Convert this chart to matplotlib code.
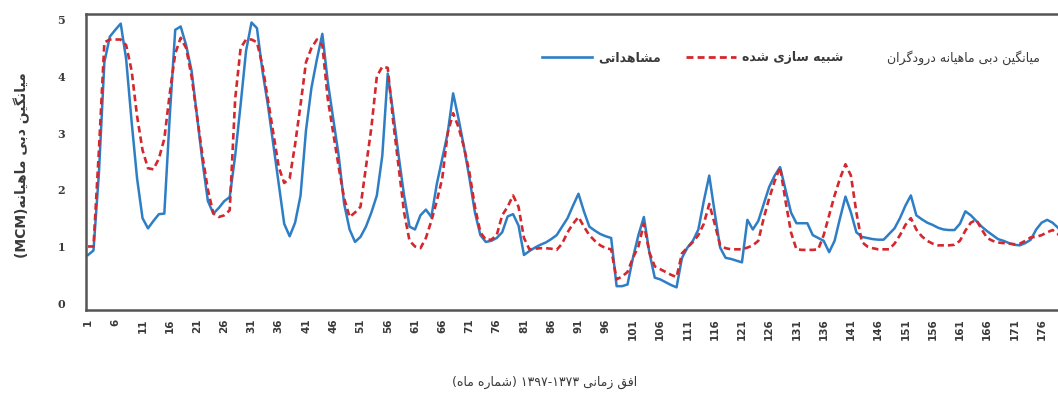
import matplotlib
matplotlib.use('Agg')
import matplotlib.pyplot as plt
from matplotlib.lines import Line2D

# monthly mean inflow, observed vs simulated (MCM)
months = list(range(1, 181))
observed = [0.85, 0.93, 2.3, 4.25, 4.7, 4.82, 4.93, 4.3, 3.2, 2.2,
            1.5, 1.32, 1.45, 1.57, 1.58, 3.3, 4.82, 4.88, 4.55, 4.1,
            3.3, 2.5, 1.8, 1.58, 1.68, 1.8, 1.87, 2.6, 3.5, 4.45,
            4.95, 4.85, 4.1, 3.5, 2.8, 2.1, 1.4, 1.18, 1.42, 1.9,
            3.05, 3.8, 4.3, 4.75, 3.9, 3.25, 2.6, 1.75, 1.3, 1.08,
            1.17, 1.35, 1.6, 1.9, 2.6, 4.05, 3.35, 2.6, 1.9, 1.35,
            1.3, 1.55, 1.65, 1.52, 2.1, 2.55, 3.0, 3.7, 3.25, 2.75,
            2.2, 1.6, 1.2, 1.08, 1.1, 1.15, 1.25, 1.53, 1.57, 1.37,
            0.85, 0.92, 0.98, 1.03, 1.07, 1.13, 1.2, 1.35, 1.5, 1.72,
            1.93, 1.62, 1.35, 1.28, 1.22, 1.18, 1.15, 0.3, 0.3, 0.33,
            0.8, 1.2, 1.52, 0.9, 0.45, 0.42, 0.37, 0.32, 0.28, 0.8,
            0.98, 1.1, 1.3, 1.8, 2.25, 1.6, 0.98, 0.8, 0.78, 0.75,
            0.72, 1.47, 1.3, 1.45, 1.75, 2.05, 2.25, 2.4, 2.0, 1.6,
            1.41, 1.41, 1.41, 1.2, 1.15, 1.1, 0.9, 1.1, 1.5, 1.88,
            1.6, 1.25, 1.17, 1.15, 1.13, 1.12, 1.12, 1.22, 1.32, 1.5,
            1.72, 1.9, 1.55, 1.48, 1.42, 1.38, 1.33, 1.3, 1.29, 1.29,
            1.4, 1.62, 1.55, 1.45, 1.35, 1.27, 1.2, 1.13, 1.1, 1.06,
            1.03, 1.02, 1.06, 1.12, 1.3, 1.42, 1.47, 1.42, 1.33, 1.2]
simulated = [1.0, 1.0, 2.7, 4.6, 4.65, 4.65, 4.65, 4.55, 4.1, 3.3,
             2.7, 2.38, 2.36, 2.55, 2.9, 3.7, 4.4, 4.68, 4.5, 4.0,
             3.3, 2.6, 2.0, 1.58, 1.52, 1.55, 1.64, 3.6, 4.5, 4.65,
             4.65, 4.6, 4.2, 3.6, 3.0, 2.4, 2.12, 2.2, 2.8, 3.5,
             4.25, 4.5, 4.65, 4.55, 3.6, 3.0, 2.4, 1.85, 1.52, 1.6,
             1.7, 2.4, 3.1, 4.0, 4.17, 4.15, 3.2, 2.4, 1.6, 1.1,
             1.0, 0.97, 1.15, 1.45, 1.8, 2.2, 3.0, 3.35, 3.1, 2.75,
             2.3, 1.7, 1.25, 1.12, 1.12, 1.2, 1.55, 1.7, 1.9, 1.7,
             1.15, 0.95, 0.96, 0.97, 0.97, 0.96, 0.94, 1.05, 1.25, 1.4,
             1.52, 1.35, 1.2, 1.1, 1.02, 0.97, 0.95, 0.42, 0.47, 0.55,
             0.8, 1.0, 1.4, 0.9, 0.65, 0.6, 0.55, 0.5, 0.46, 0.88,
             0.98, 1.08, 1.2, 1.4, 1.75, 1.4, 1.02, 0.97, 0.95, 0.95,
             0.95, 0.98, 1.02, 1.1, 1.5, 1.85, 2.15, 2.4, 1.8, 1.25,
             0.95, 0.94, 0.94, 0.94, 0.95, 1.2, 1.55, 1.9, 2.2, 2.45,
             2.25, 1.6, 1.08, 1.0, 0.97, 0.95, 0.95, 0.95, 1.05, 1.2,
             1.38, 1.5, 1.3, 1.18, 1.1, 1.05, 1.02, 1.02, 1.02, 1.03,
             1.1, 1.28, 1.42, 1.47, 1.3, 1.15, 1.1, 1.07, 1.06, 1.05,
             1.04, 1.05, 1.1, 1.16, 1.17, 1.2, 1.25, 1.29, 1.22, 1.1]
xticks = list(range(1, 177, 5))
yticks = [0, 1, 2, 3, 4, 5]

# tiny persian shaper: presentation forms (iso, fin, ini, med), visual order
FORMS = {
    'ا': (0xFE8D, 0xFE8E, None, None), 'ب': (0xFE8F, 0xFE90, 0xFE91, 0xFE92),
    'پ': (0xFB56, 0xFB57, 0xFB58, 0xFB59), 'ت': (0xFE95, 0xFE96, 0xFE97, 0xFE98),
    'ج': (0xFE9D, 0xFE9E, 0xFE9F, 0xFEA0), 'چ': (0xFB7A, 0xFB7B, 0xFB7C, 0xFB7D),
    'ح': (0xFEA1, 0xFEA2, 0xFEA3, 0xFEA4), 'خ': (0xFEA5, 0xFEA6, 0xFEA7, 0xFEA8),
    'د': (0xFEA9, 0xFEAA, None, None), 'ذ': (0xFEAB, 0xFEAC, None, None),
    'ر': (0xFEAD, 0xFEAE, None, None), 'ز': (0xFEAF, 0xFEB0, None, None),
    'ژ': (0xFB8A, 0xFB8B, None, None), 'س': (0xFEB1, 0xFEB2, 0xFEB3, 0xFEB4),
    'ش': (0xFEB5, 0xFEB6, 0xFEB7, 0xFEB8), 'ع': (0xFEC9, 0xFECA, 0xFECB, 0xFECC),
    'ف': (0xFED1, 0xFED2, 0xFED3, 0xFED4), 'ق': (0xFED5, 0xFED6, 0xFED7, 0xFED8),
    'ک': (0xFB8E, 0xFB8F, 0xFB90, 0xFB91), 'گ': (0xFB92, 0xFB93, 0xFB94, 0xFB95),
    'ل': (0xFEDD, 0xFEDE, 0xFEDF, 0xFEE0), 'م': (0xFEE1, 0xFEE2, 0xFEE3, 0xFEE4),
    'ن': (0xFEE5, 0xFEE6, 0xFEE7, 0xFEE8), 'ه': (0xFEE9, 0xFEEA, 0xFEEB, 0xFEEC),
    'و': (0xFEED, 0xFEEE, None, None), 'ی': (0xFBFC, 0xFBFD, 0xFBFE, 0xFBFF),
}


def fa_word(w):
    if not any(c in FORMS for c in w):
        return w
    out = []
    for i, c in enumerate(w):
        if c not in FORMS:
            out.append(c)
            continue
        iso, fin, ini, med = FORMS[c]
        prev = i > 0 and w[i - 1] in FORMS and FORMS[w[i - 1]][2] is not None
        nxt = i < len(w) - 1 and w[i + 1] in FORMS and ini is not None
        if prev and nxt:
            code = med
        elif prev:
            code = fin
        elif nxt:
            code = ini
        else:
            code = iso
        out.append(chr(code))
    return ''.join(reversed(out))


def fa(text):
    return ' '.join(fa_word(w) for w in reversed(text.split(' ')))


ylabel = '(MCM)' + fa('میانگین دبی ماهیانه')
xlabel = '(' + fa('شماره ماه') + ') ۱۳۹۷-۱۳۷۳ ' + fa('افق زمانی')
obs_label = fa('مشاهداتی')
sim_label = fa('شبیه سازی شده')
title = fa('میانگین دبی ماهیانه درودگران')

blue = '#2E7EC6'
red = '#D3282E'
txt = '#3A3A3A'

fig = plt.figure(figsize=(10.58, 3.95), dpi=100)
ax = fig.add_axes([0.0813, 0.2152, 0.929, 0.7494])
ax.plot(months, observed, color=blue, lw=1.8, solid_joinstyle='round')
ax.plot(months, simulated, color=red, lw=1.9, ls=(0, (2.5, 1.5)))

ax.set_xlim(0.63, 181)
ax.set_ylim(-0.12, 5.1)
ax.set_xticks(xticks)
ax.set_xticklabels([str(t) for t in xticks], rotation=90, fontsize=7.5,
                   fontweight='bold', family='DejaVu Sans', color=txt)
ax.set_yticks(yticks)
ax.set_yticklabels([str(t) for t in yticks], fontsize=8, fontweight='bold',
                   family='DejaVu Serif', color=txt)
ax.tick_params(axis='x', length=0, pad=6)
ax.tick_params(axis='y', length=0, pad=15)
for s in ['top', 'left', 'bottom', 'right']:
    ax.spines[s].set_color('#555555')
    ax.spines[s].set_linewidth(1.8)

fig.text(22 / 1058, 1 - 165 / 395, ylabel, rotation=90, ha='center', va='center',
         fontsize=10, fontweight='bold', family='DejaVu Sans', color=txt)
fig.text(545 / 1058, 1 - 382 / 395, xlabel, ha='center', va='center',
         fontsize=9, family='DejaVu Sans', color=txt)

handles = [Line2D([], [], color=blue, lw=1.9),
           Line2D([], [], color=red, lw=2.0, ls=(0, (2.5, 1.5)))]
ax.legend(handles, [obs_label, sim_label], ncol=2, loc='center left',
          bbox_to_anchor=(542 / 1058, 1 - 58 / 395), bbox_transform=fig.transFigure,
          frameon=False, borderpad=0, borderaxespad=0, handlelength=4,
          handletextpad=0.5, columnspacing=2,
          prop={'family': 'DejaVu Sans', 'size': 9, 'weight': 'bold'},
          labelcolor=txt)
fig.text(1040 / 1058, 1 - 58 / 395, title, ha='right', va='center', fontsize=9,
         family='DejaVu Sans', color=txt)

fig.savefig('out.png', dpi=100)
